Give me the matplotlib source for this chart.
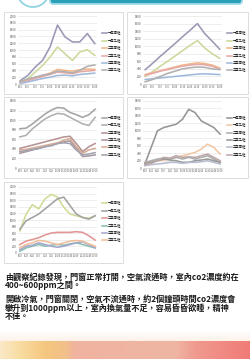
import matplotlib
matplotlib.use("Agg")
import matplotlib.pyplot as plt
import numpy as np
from matplotlib.patches import Rectangle, FancyBboxPatch, Circle
from matplotlib.colors import LinearSegmentedColormap

plt.rcParams['font.family'] = ['Noto Sans CJK TC', 'DejaVu Sans']

W, H = 251, 359

# ---------------- data ----------------
legend_labels = ["一年甲班", "一年乙班", "二年甲班", "二年乙班", "三年甲班", "三年乙班"]

c1_x = ["8:00", "8:30", "9:00", "9:30", "10:00", "10:30", "11:00", "11:30", "12:00", "12:30", "13:00"]
c1_series = [
    [99, 248, 495, 693, 1089, 1733, 1386, 1238, 1238, 1485, 1188],
    [50, 149, 347, 545, 792, 1089, 891, 693, 941, 1010, 842],
    [60, 130, 190, 250, 320, 430, 400, 380, 420, 440, 430],
    [40, 100, 160, 220, 280, 350, 330, 300, 360, 380, 400],
    [20, 60, 110, 160, 200, 250, 260, 240, 280, 300, 320],
    [80, 150, 200, 260, 300, 380, 360, 330, 400, 520, 560],
]
c1_ticks = list(range(0, 2001, 200))

c2_x = ["8:00", "8:30", "9:00", "9:30", "10:00", "10:30", "11:00", "11:30", "12:00", "12:30", "13:00"]
c2_series = [
    [380, 550, 730, 900, 1070, 1250, 1420, 1600, 1330, 1130, 920],
    [200, 330, 470, 600, 740, 880, 1020, 1150, 950, 800, 680],
    [250, 300, 350, 400, 450, 500, 530, 560, 540, 500, 420],
    [230, 280, 340, 380, 430, 470, 500, 520, 510, 470, 400],
    [120, 140, 160, 180, 200, 220, 240, 260, 270, 260, 250],
    [60, 120, 200, 280, 340, 400, 430, 450, 440, 400, 380],
]
c2_ticks = list(range(0, 1801, 200))

c3_x = ["8:00", "8:20", "8:40", "9:00", "9:20", "9:40", "10:00", "10:20", "10:40", "11:00", "11:20", "11:40", "12:00"]
c3_series = [
    [820, 833, 922, 1025, 1127, 1209, 1264, 1250, 1161, 1113, 1059, 1113, 1229],
    [649, 683, 820, 922, 1025, 1093, 1141, 1127, 1059, 990, 922, 888, 1059],
    [410, 444, 478, 512, 546, 581, 615, 649, 663, 512, 342, 444, 512],
    [307, 342, 376, 410, 444, 478, 512, 546, 567, 410, 239, 253, 273],
    [376, 389, 417, 444, 471, 499, 526, 581, 615, 444, 307, 376, 410],
    [342, 362, 389, 410, 444, 464, 512, 526, 512, 376, 273, 294, 321],
]
c3_ticks = list(range(0, 1401, 200))

c4_x = ["8:00", "8:20", "8:40", "9:00", "9:20", "9:40", "10:00", "10:20", "10:40", "11:00", "11:20", "11:40", "12:00"]
c4_series = [
    [107, 552, 998, 1087, 1131, 1176, 1310, 1577, 1488, 1265, 1176, 1087, 909],
    [151, 151, 196, 214, 241, 285, 330, 374, 419, 508, 641, 552, 374],
    [151, 196, 241, 267, 241, 285, 241, 285, 241, 285, 330, 241, 151],
    [107, 151, 196, 241, 214, 196, 151, 151, 196, 214, 241, 196, 151],
    [62, 89, 107, 125, 151, 151, 125, 151, 151, 169, 196, 151, 107],
    [89, 125, 196, 285, 267, 330, 285, 303, 285, 330, 374, 285, 196],
]
c4_ticks = list(range(0, 1801, 200))

c5_x = ["8:00", "8:20", "8:40", "9:00", "9:20", "9:40", "10:00", "10:20", "10:40", "11:00", "11:20", "11:40", "12:00"]
c5_series = [
    [667, 1180, 1467, 1334, 1642, 1775, 1693, 1385, 1180, 1129, 1077, 1057, 1129],
    [718, 975, 1077, 1180, 1334, 1488, 1642, 1693, 1436, 1180, 1077, 1026, 1129],
    [257, 359, 410, 462, 544, 605, 626, 626, 626, 646, 626, 523, 390],
    [51, 154, 205, 257, 205, 236, 257, 236, 277, 308, 257, 205, 154],
    [103, 205, 236, 308, 257, 205, 174, 205, 257, 308, 339, 257, 154],
    [154, 257, 308, 380, 359, 308, 257, 308, 359, 380, 359, 277, 205],
]
c5_ticks = list(range(0, 2001, 200))

text_lines = [
    "由觀察紀錄發現，門窗正常打開，空氣流通時，室內co2濃度約在",
    "400~600ppm之間。",
    "開啟冷氣，門窗關閉，空氣不流通時，約2個鐘頭時間co2濃度會",
    "攀升到1000ppm以上，室內換氣量不足，容易昏昏欲睡，精神",
    "不佳。",
]

# ---------------- styling ----------------
colors_a = ["#9c97b4", "#cbd99a", "#f3b789", "#e5aaa7", "#a0b9da", "#b0b0b0"]
colors_3 = ["#a4a4a4", "#b0b0b0", "#b69494", "#a896a0", "#d6ad96", "#a2a2b0"]
colors_4 = ["#959595", "#f2c7a2", "#adadad", "#989898", "#b6bece", "#bea8a8"]
colors_5 = ["#cedb96", "#a2a2a2", "#e39595", "#8bbdb6", "#a3a8cc", "#f1be9a"]

fig = plt.figure(figsize=(W / 100, H / 100), dpi=100)
bg = fig.add_axes([0, 0, 1, 1])
bg.set_xlim(0, W)
bg.set_ylim(H, 0)
bg.axis("off")

# header
bg.add_patch(FancyBboxPatch((50, -6), 192, 10, boxstyle="round,pad=0,rounding_size=3",
                            facecolor="#2a9fb6", edgecolor="#9fdbe8", linewidth=1.3, zorder=2))
bg.add_patch(Circle((33, -9), 16, facecolor="white", edgecolor="#8fd3e0", linewidth=1.3, zorder=3))

# bottom gradient
grad_cols = [(0.0, "#fbe8c6"), (0.08, "#f8dca0"), (0.18, "#f5c67e"), (0.26, "#f2c08a"),
             (0.3, "#efb3a0"), (0.7, "#efb6a4"), (0.78, "#f09a8e"), (1.0, "#f07a76")]
cmap = LinearSegmentedColormap.from_list("g", grad_cols)
gx = np.linspace(0, 1, 256)[None, :]
bg.imshow(np.repeat(gx, 4, axis=0), cmap=cmap, extent=[0, W, 359, 341], aspect="auto", zorder=1)
fade = np.linspace(0, 1, 20)[:, None]
fade_img = np.ones((20, 2, 4))
fade_img[..., :3] = np.array([0.99, 0.93, 0.88])
fade_img[..., 3] = np.repeat(fade, 2, axis=1) * 0.7
bg.imshow(fade_img, extent=[0, W, 341, 330], aspect="auto", zorder=1)

# paragraph
ys = [277, 286, 299, 308, 317]
for y, t in zip(ys, text_lines):
    bg.text(5, y, t, fontsize=5.9, fontweight="bold", color="#1a1a1a", va="center", ha="left")


def px_axes(x0, y0, x1, y1):
    return fig.add_axes([x0 / W, 1 - y1 / H, (x1 - x0) / W, (y1 - y0) / H])


def chart(box, plot, xlabels, series, ticks, colors):
    bx0, by0, bx1, by1 = box
    bg.add_patch(Rectangle((bx0, by0), bx1 - bx0, by1 - by0, facecolor="white",
                           edgecolor="#d0d0d0", linewidth=0.5, zorder=1))
    ax = px_axes(*plot)
    x = np.arange(len(xlabels))
    for s, c, lab in zip(series, colors, legend_labels):
        ax.plot(x, s, color=c, linewidth=1.15, label=lab)
    ax.set_ylim(0, ticks[-1])
    ax.set_yticks(ticks)
    ax.set_yticklabels([str(t) for t in ticks], fontsize=2.2, color="#555555")
    ax.set_xticks(x)
    ax.set_xticklabels(xlabels, fontsize=1.8, color="#555555")
    ax.set_xlim(-0.3, len(xlabels) - 0.7)
    ax.tick_params(length=0, pad=1)
    ax.grid(axis="y", color="#e2e2e2", linewidth=0.4)
    for k in ["top", "right", "left"]:
        ax.spines[k].set_visible(False)
    ax.spines["bottom"].set_color("#bbbbbb")
    ax.spines["bottom"].set_linewidth(0.4)
    ax.set_facecolor("none")
    ax.legend(loc="center left", bbox_to_anchor=(1.02, 0.47), frameon=False,
              fontsize=2.4, handlelength=1.6, labelspacing=1.0, handletextpad=0.4)
    return ax


chart((4, 12, 123, 94), (18, 16, 97, 84), c1_x, c1_series, c1_ticks, colors_a)
chart((127, 12, 248, 94), (143, 16, 222, 84), c2_x, c2_series, c2_ticks, colors_a)
chart((4, 97, 123, 178), (18, 101, 97, 168), c3_x, c3_series, c3_ticks, colors_3)
chart((127, 97, 248, 178), (143, 101, 222, 168), c4_x, c4_series, c4_ticks, colors_4)
chart((4, 182, 123, 263), (18, 187, 97, 253), c5_x, c5_series, c5_ticks, colors_5)

fig.savefig("out.png", dpi=100)
